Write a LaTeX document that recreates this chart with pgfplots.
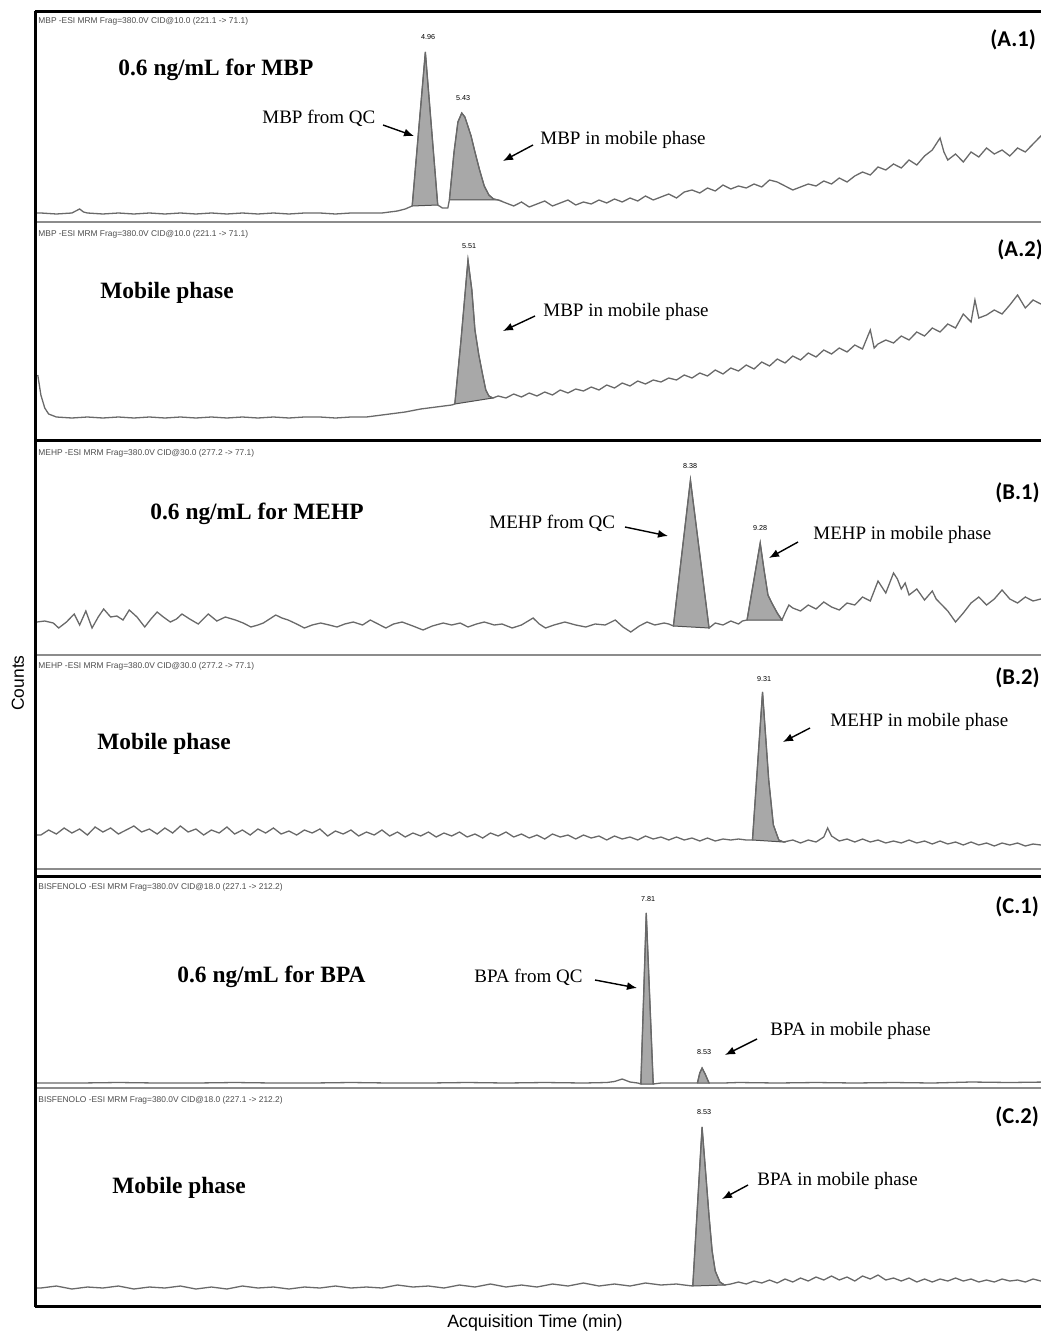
\documentclass[border=0pt]{standalone}
\usepackage{pgfplots}
\pgfplotsset{compat=1.18}
\usepackage{fontspec}
\setmainfont{Liberation Serif}
\newfontfamily\sansf{Liberation Sans}
\newfontfamily\carl{Carlito}
\usetikzlibrary{arrows.meta}
\definecolor{trace}{RGB}{105,105,105}
\definecolor{pkfill}{RGB}{168,168,168}
\definecolor{pkline}{RGB}{80,80,80}
\pgfplotsset{chrom/.style={scale only axis, width=505pt, xmin=-0.05, xmax=12.98, ymin=0, hide axis, clip=true, anchor=south west},
 tr/.style={trace, line width=0.65pt, no marks},
 pk/.style={fill=pkfill, draw=pkline, line width=0.5pt, no marks}}
\tikzset{
 bt/.style={anchor=west,inner sep=0,font=\fontsize{11.7}{13}\selectfont\bfseries},
 ann/.style={anchor=west,inner sep=0,font=\fontsize{9.5}{10}\selectfont},
 lab/.style={anchor=west,inner sep=0,font=\carl\fontsize{11.3}{12}\selectfont\bfseries},
 hd/.style={anchor=west,inner sep=0,font=\sansf\fontsize{4.2}{5}\selectfont, text=black!70},
 rt/.style={inner sep=0,font=\sansf\fontsize{3.6}{4}\selectfont},
 ar/.style={-{Latex[length=5pt,width=4pt]}, line width=0.7pt}}
\begin{document}
\begin{tikzpicture}
\useasboundingbox (0,0) rectangle (520pt,-666pt);
% ---------- A.1 ----------
\begin{axis}[chrom, at={(18.5pt,-111pt)}, height=105pt, ymax=210]
\addplot[pk] coordinates {(4.79,16) (4.96,170) (5.12,17) (4.79,16)};
\addplot[pk] coordinates {(5.27,22) (5.33,70) (5.38,100) (5.43,109) (5.47,105) (5.50,98) (5.55,86) (5.60,70) (5.66,52) (5.72,36) (5.78,27) (5.84,23) (5.90,22) (5.27,22)};
\addplot[tr] coordinates {(-0.05,9) (0,9) (0.2,8) (0.4,9) (0.45,11) (0.5,13) (0.55,10) (0.6,9) (0.8,8) (1.0,9) (1.2,8) (1.4,9) (1.6,8) (1.8,9) (2.0,8) (2.2,9) (2.4,8) (2.6,9) (2.8,8) (3.0,9) (3.2,8) (3.4,9) (3.6,9) (3.8,8) (4.0,9) (4.2,9) (4.4,9) (4.5,10) (4.6,11) (4.7,13) (4.79,16) (4.96,170) (5.12,17) (5.18,14) (5.25,14) (5.27,22) (5.33,70) (5.38,100) (5.43,109) (5.47,105) (5.50,98) (5.55,86) (5.60,70) (5.66,52) (5.72,36) (5.78,27) (5.84,23) (5.90,22) (6.0,19) (6.1,16) (6.2,20) (6.3,15) (6.4,18) (6.5,21) (6.6,16) (6.7,19) (6.8,22) (6.9,17) (7.0,20) (7.1,18) (7.2,22) (7.3,19) (7.4,23) (7.5,20) (7.6,24) (7.7,21) (7.8,26) (7.9,22) (8.0,25) (8.1,28) (8.2,24) (8.3,30) (8.4,32) (8.5,29) (8.6,34) (8.7,31) (8.8,37) (8.9,33) (9.0,36) (9.1,34) (9.2,38) (9.3,35) (9.4,42) (9.5,40) (9.6,36) (9.7,32) (9.8,35) (9.9,38) (10.0,36) (10.1,41) (10.2,38) (10.3,44) (10.4,40) (10.5,46) (10.6,50) (10.7,47) (10.8,55) (10.9,52) (11.0,58) (11.1,54) (11.2,62) (11.3,57) (11.4,66) (11.5,72) (11.6,84) (11.65,70) (11.7,62) (11.8,68) (11.9,60) (12.0,70) (12.1,65) (12.2,74) (12.3,68) (12.4,72) (12.5,66) (12.6,74) (12.7,70) (12.8,78) (12.9,86) (12.98,80)};
\end{axis}
% ---------- A.2 ----------
\begin{axis}[chrom, at={(18.5pt,-220pt)}, height=109pt, ymax=218]
\addplot[pk] coordinates {(5.34,36) (5.42,100) (5.51,180) (5.56,150) (5.60,110) (5.65,85) (5.70,65) (5.74,50) (5.78,44) (5.83,42) (5.34,36)};
\addplot[tr] coordinates {(-0.04,65) (0,45) (0.05,32) (0.1,26) (0.2,23) (0.4,22) (0.6,23) (0.8,22) (1.0,23) (1.2,22) (1.4,23) (1.6,22) (1.8,23) (2.0,22) (2.2,23) (2.4,22) (2.6,23) (2.8,22) (3.0,23) (3.2,22) (3.4,23) (3.6,23) (3.8,22) (4.0,23) (4.2,23) (4.3,24) (4.5,26) (4.7,28) (4.9,31) (5.0,32) (5.1,33) (5.2,34) (5.3,35) (5.34,36) (5.42,100) (5.51,180) (5.56,150) (5.60,110) (5.65,85) (5.70,65) (5.74,50) (5.78,44) (5.83,42) (5.9,44) (6.0,42) (6.1,46) (6.2,43) (6.3,47) (6.4,44) (6.5,48) (6.6,45) (6.7,50) (6.8,47) (6.9,51) (7.0,49) (7.1,53) (7.2,50) (7.3,55) (7.4,52) (7.5,57) (7.6,54) (7.7,59) (7.8,56) (7.9,60) (8.0,58) (8.1,62) (8.2,60) (8.3,65) (8.4,62) (8.5,67) (8.6,64) (8.7,70) (8.8,66) (8.9,72) (9.0,69) (9.1,75) (9.2,71) (9.3,78) (9.4,74) (9.5,81) (9.6,77) (9.7,84) (9.8,80) (9.9,87) (10.0,83) (10.1,90) (10.2,86) (10.3,92) (10.4,88) (10.5,95) (10.6,91) (10.7,110) (10.75,92) (10.8,96) (10.9,100) (11.0,97) (11.1,104) (11.2,100) (11.3,108) (11.4,104) (11.5,112) (11.6,108) (11.7,116) (11.8,112) (11.9,126) (12.0,118) (12.05,140) (12.1,122) (12.2,125) (12.3,130) (12.4,126) (12.5,135) (12.6,145) (12.7,132) (12.8,140) (12.9,136) (12.98,138)};
\end{axis}
% ---------- B.1 ----------
\begin{axis}[chrom, at={(18.5pt,-327.5pt)}, height=107.5pt, ymax=215]
\addplot[pk] coordinates {(8.16,29) (8.38,175) (8.62,27) (8.16,29)};
\addplot[pk] coordinates {(9.11,35) (9.28,112) (9.33,85) (9.38,60) (9.43,52) (9.50,42) (9.56,35) (9.11,35)};
\addplot[tr] coordinates {(-0.05,33) (0.05,34) (0.16,32) (0.23,27) (0.33,33) (0.43,41) (0.5,30) (0.58,44) (0.66,27) (0.74,38) (0.81,46) (0.9,38) (0.98,39) (1.06,35) (1.14,45) (1.24,38) (1.34,28) (1.42,36) (1.5,43) (1.58,38) (1.67,33) (1.75,36) (1.82,41) (1.92,36) (2.03,31) (2.16,41) (2.27,34) (2.38,38) (2.51,35) (2.61,32) (2.71,28) (2.8,30) (2.87,32) (3.03,40) (3.11,37) (3.19,35) (3.3,31) (3.4,27) (3.5,30) (3.61,32) (3.72,30) (3.82,28) (3.92,31) (4.03,33) (4.15,30) (4.25,35) (4.35,31) (4.45,27) (4.55,31) (4.66,33) (4.8,29) (4.93,25) (5.05,29) (5.19,32) (5.3,30) (5.41,32) (5.51,28) (5.62,31) (5.72,33) (5.85,30) (5.95,31) (6.08,27) (6.2,30) (6.35,37) (6.43,31) (6.51,27) (6.62,30) (6.76,33) (6.9,30) (7.03,28) (7.15,31) (7.28,30) (7.41,35) (7.51,28) (7.61,23) (7.72,29) (7.82,33) (7.92,30) (8.04,32) (8.1,31) (8.16,29) (8.38,175) (8.62,27) (8.7,32) (8.8,30) (8.9,34) (9.0,31) (9.05,34) (9.11,35) (9.28,112) (9.33,85) (9.38,60) (9.43,52) (9.50,42) (9.56,35) (9.6,42) (9.65,50) (9.7,47) (9.8,44) (9.9,50) (10.0,46) (10.1,53) (10.2,48) (10.3,45) (10.4,52) (10.5,50) (10.6,58) (10.7,54) (10.8,74) (10.9,62) (11.0,82) (11.05,76) (11.1,66) (11.15,72) (11.2,60) (11.3,66) (11.4,55) (11.5,64) (11.55,56) (11.6,52) (11.7,44) (11.8,33) (11.9,42) (12.0,52) (12.1,58) (12.2,50) (12.3,56) (12.4,65) (12.5,56) (12.6,52) (12.7,58) (12.8,54) (12.9,56) (12.98,55)};
\end{axis}
% ---------- B.2 ----------
\begin{axis}[chrom, at={(18.5pt,-435pt)}, height=107.5pt, ymax=215]
\addplot[pk] coordinates {(9.18,30) (9.31,178) (9.39,90) (9.45,45) (9.52,30) (9.58,28) (9.18,30)};
\addplot[tr] coordinates {(-0.05,35) (0,35) (0.1,40) (0.2,36) (0.3,42) (0.4,37) (0.5,41) (0.6,35) (0.7,43) (0.8,38) (0.9,42) (1.0,36) (1.1,40) (1.2,44) (1.3,38) (1.4,41) (1.5,36) (1.6,42) (1.7,37) (1.8,44) (1.9,38) (2.0,41) (2.1,35) (2.2,40) (2.3,37) (2.4,43) (2.5,36) (2.6,40) (2.7,35) (2.8,41) (2.9,37) (3.0,42) (3.1,36) (3.2,39) (3.3,35) (3.4,40) (3.5,37) (3.6,41) (3.7,34) (3.8,39) (3.9,36) (4.0,40) (4.1,34) (4.2,38) (4.3,35) (4.4,40) (4.5,34) (4.6,38) (4.7,33) (4.8,37) (4.9,34) (5.0,38) (5.1,33) (5.2,37) (5.3,34) (5.4,38) (5.5,33) (5.6,36) (5.7,32) (5.8,37) (5.9,34) (6.0,38) (6.1,33) (6.2,36) (6.3,32) (6.4,35) (6.5,31) (6.6,36) (6.7,33) (6.8,35) (6.9,31) (7.0,35) (7.1,32) (7.2,34) (7.3,30) (7.4,34) (7.5,31) (7.6,33) (7.7,30) (7.8,34) (7.9,31) (8.0,33) (8.1,30) (8.2,33) (8.3,30) (8.4,32) (8.5,29) (8.6,32) (8.7,29) (8.8,31) (8.9,30) (9.0,31) (9.1,30) (9.18,30) (9.31,178) (9.39,90) (9.45,45) (9.52,30) (9.58,28) (9.7,30) (9.8,27) (9.9,30) (10.0,28) (10.1,33) (10.15,42) (10.2,34) (10.3,29) (10.4,31) (10.5,28) (10.6,31) (10.7,28) (10.8,30) (10.9,27) (11.0,29) (11.1,27) (11.2,30) (11.3,27) (11.4,29) (11.5,26) (11.6,29) (11.7,26) (11.8,28) (11.9,25) (12.0,28) (12.1,25) (12.2,27) (12.3,24) (12.4,27) (12.5,25) (12.6,27) (12.7,24) (12.8,26) (12.9,25) (12.98,25)};
\end{axis}
% ---------- C.1 ----------
\begin{axis}[chrom, at={(18.5pt,-544pt)}, height=106pt, ymax=212]
\addplot[pk] coordinates {(7.74,4) (7.81,175) (7.90,4) (7.74,4)};
\addplot[pk] coordinates {(8.47,5) (8.50,15) (8.53,20) (8.57,14) (8.62,5) (8.47,5)};
\addplot[tr] coordinates {(-0.05,5) (0.5,5) (1,5.5) (1.5,5) (2,5) (2.5,5.5) (3,5) (3.5,5) (4,5.5) (4.5,5) (5,5) (5.5,5.5) (6,5) (6.5,5.5) (7,5) (7.3,5.5) (7.4,6.5) (7.5,9) (7.6,6) (7.7,5) (7.74,4) (7.81,175) (7.90,4) (8.0,5) (8.2,5) (8.4,5) (8.47,5) (8.50,15) (8.53,20) (8.57,14) (8.62,5) (8.8,5) (9,5.5) (9.5,5) (10,5.5) (10.5,5) (11,5.5) (11.5,5) (12,6) (12.5,5.5) (12.98,6)};
\end{axis}
% ---------- C.2 ----------
\begin{axis}[chrom, at={(18.5pt,-653pt)}, height=109pt, ymax=218]
\addplot[pk] coordinates {(8.41,20) (8.53,179) (8.58,130) (8.62,90) (8.66,55) (8.70,35) (8.76,24) (8.82,21) (8.41,20)};
\addplot[tr] coordinates {(-0.05,18) (0,18) (0.2,20) (0.4,17) (0.6,19) (0.8,18) (1.0,20) (1.2,17) (1.4,19) (1.6,18) (1.8,20) (2.0,17) (2.2,19) (2.4,17) (2.6,20) (2.8,18) (3.0,19) (3.2,17) (3.4,19) (3.6,18) (3.8,20) (4.0,18) (4.2,19) (4.4,18) (4.6,21) (4.8,19) (5.0,20) (5.2,18) (5.4,21) (5.6,19) (5.8,22) (6.0,19) (6.2,21) (6.4,19) (6.6,22) (6.8,20) (7.0,23) (7.2,20) (7.4,22) (7.6,20) (7.8,23) (8.0,21) (8.2,22) (8.3,21) (8.41,20) (8.53,179) (8.58,130) (8.62,90) (8.66,55) (8.70,35) (8.76,24) (8.82,21) (8.9,22) (9.0,24) (9.1,22) (9.2,25) (9.3,23) (9.4,26) (9.5,23) (9.6,27) (9.7,24) (9.8,28) (9.9,25) (10.0,29) (10.1,26) (10.2,30) (10.3,26) (10.4,29) (10.5,25) (10.6,30) (10.7,27) (10.8,31) (10.9,26) (11.0,28) (11.1,25) (11.2,28) (11.3,24) (11.4,27) (11.5,24) (11.6,27) (11.7,25) (11.8,28) (11.9,25) (12.0,27) (12.1,24) (12.2,26) (12.3,24) (12.4,27) (12.5,25) (12.6,26) (12.7,24) (12.8,27) (12.9,25) (12.98,25)};
\end{axis}
% ---------- frames, text, arrows (pixel coordinates) ----------
\begin{scope}[x=0.5pt,y=-0.5pt]
\foreach \yy in {222,655,869,1088} \draw[black!45, line width=0.8pt] (36,\yy)--(1045,\yy);
\foreach \yy in {12,440,876,1306} \draw[line width=1.5pt] (35,\yy)--(1045,\yy);
\draw[line width=1.5pt] (35,11)--(35,1307);
% headers
\node[hd] at (38,21) {MBP -ESI MRM Frag=380.0V CID@10.0 (221.1 -> 71.1)};
\node[hd] at (38,234) {MBP -ESI MRM Frag=380.0V CID@10.0 (221.1 -> 71.1)};
\node[hd] at (38,453) {MEHP -ESI MRM Frag=380.0V CID@30.0 (277.2 -> 77.1)};
\node[hd] at (38,666) {MEHP -ESI MRM Frag=380.0V CID@30.0 (277.2 -> 77.1)};
\node[hd] at (38,887) {BISFENOLO -ESI MRM Frag=380.0V CID@18.0 (227.1 -> 212.2)};
\node[hd] at (38,1100) {BISFENOLO -ESI MRM Frag=380.0V CID@18.0 (227.1 -> 212.2)};
% panel labels
\node[lab] at (990,40) {(A.1)};
\node[lab] at (997,250) {(A.2)};
\node[lab] at (995,493) {(B.1)};
\node[lab] at (995,678) {(B.2)};
\node[lab] at (995,907) {(C.1)};
\node[lab] at (995,1117) {(C.2)};
% retention times
\node[rt] at (428,37) {4.96};
\node[rt] at (463,98) {5.43};
\node[rt] at (469,246) {5.51};
\node[rt] at (690,466) {8.38};
\node[rt] at (760,528) {9.28};
\node[rt] at (764,679) {9.31};
\node[rt] at (648,899) {7.81};
\node[rt] at (704,1052) {8.53};
\node[rt] at (704,1112) {8.53};
% bold titles
\node[bt] at (118,70) {0.6 ng/mL for MBP};
\node[bt] at (100,293) {Mobile phase};
\node[bt] at (150,514) {0.6 ng/mL for MEHP};
\node[bt] at (97,744) {Mobile phase};
\node[bt] at (177,977) {0.6 ng/mL for BPA};
\node[bt] at (112,1188) {Mobile phase};
% annotations
\node[ann] at (262,118) {MBP from QC};
\draw[ar] (383,125)--(414,136);
\node[ann] at (540,140) {MBP in mobile phase};
\draw[ar] (533,145)--(503,161);
\node[ann] at (543,312) {MBP in mobile phase};
\draw[ar] (535,316)--(503,331);
\node[ann] at (489,523) {MEHP from QC};
\draw[ar] (625,527)--(668,536);
\node[ann] at (813,535) {MEHP in mobile phase};
\draw[ar] (798,542)--(769,558);
\node[ann] at (830,722) {MEHP in mobile phase};
\draw[ar] (810,728)--(783,742);
\node[ann] at (474,977) {BPA from QC};
\draw[ar] (595,980)--(637,988);
\node[ann] at (770,1031) {BPA in mobile phase};
\draw[ar] (757,1039)--(725,1055);
\node[ann] at (757,1181) {BPA in mobile phase};
\draw[ar] (748,1185)--(722,1199);
% axis titles
\node[rotate=90, font=\sansf\fontsize{8.7}{9}\selectfont] at (18,683) {Counts};
\node[font=\sansf\fontsize{8.9}{9}\selectfont] at (535,1323) {Acquisition Time (min)};
\end{scope}
\end{tikzpicture}
\end{document}
